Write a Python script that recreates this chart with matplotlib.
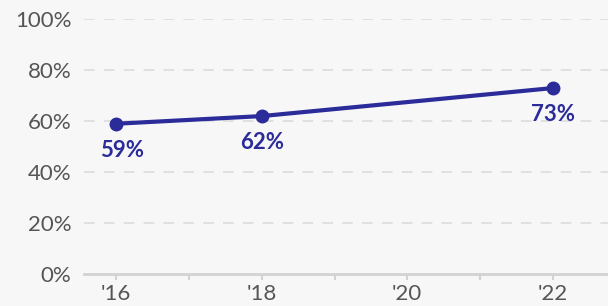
import matplotlib
matplotlib.use("Agg")
import matplotlib.pyplot as plt

plt.rcParams["font.family"] = ["Lato", "DejaVu Sans"]

# data
years = [2016, 2018, 2022]
values = [59, 62, 73]
labels = ["59%", "62%", "73%"]
label_dx = [6, 0, 0]  # px shift of value labels
xtick_years = [2016, 2018, 2020, 2022]
xtick_labels = ["'16", "'18", "'20", "'22"]
yticks = [0, 20, 40, 60, 80, 100]
ytick_labels = ["0%", "20%", "40%", "60%", "80%", "100%"]

COLOR_BG = "#F7F7F7"
COLOR_LINE = "#2B2B99"
COLOR_TEXT = "#555555"
COLOR_GRID = "#DADADA"

W, H = 608, 306
fig = plt.figure(figsize=(W / 100, H / 100), dpi=100, facecolor=COLOR_BG)
ax = fig.add_axes([84 / W, (H - 274) / H, (W - 84) / W, (274 - 19.3) / H])
ax.set_facecolor(COLOR_BG)

ax.set_xlim(2015.556, 2022.76)
ax.set_ylim(0, 100)

for y in yticks[1:]:
    ax.axhline(y, color=COLOR_GRID, lw=1.1, ls=(0, (7, 6)), zorder=1)
ax.axhline(0, color="#D2D2D2", lw=2, zorder=2, clip_on=False)

ax.plot(years, values, color=COLOR_LINE, lw=3, marker="o", ms=9,
        solid_capstyle="round", zorder=3, clip_on=False)

for x, v, s, dx in zip(years, values, labels, label_dx):
    ax.annotate(s, (x, v), xytext=(dx * 0.72, -19), textcoords="offset points",
                ha="center", va="center", fontsize=16, fontweight="bold",
                color=COLOR_LINE)

for s in ax.spines.values():
    s.set_visible(False)

ax.set_yticks(yticks)
ax.set_yticklabels(ytick_labels)
ax.tick_params(axis="y", length=0, pad=9, labelsize=16, labelcolor=COLOR_TEXT)

ax.set_xticks(xtick_years)
ax.set_xticklabels(xtick_labels)
ax.set_xticks(range(2016, 2023), minor=True)
ax.tick_params(axis="x", which="both", length=4, width=1.5, color="#D2D2D2",
               pad=3, labelsize=16, labelcolor=COLOR_TEXT)

fig.savefig("out.png", dpi=100, facecolor=COLOR_BG)
